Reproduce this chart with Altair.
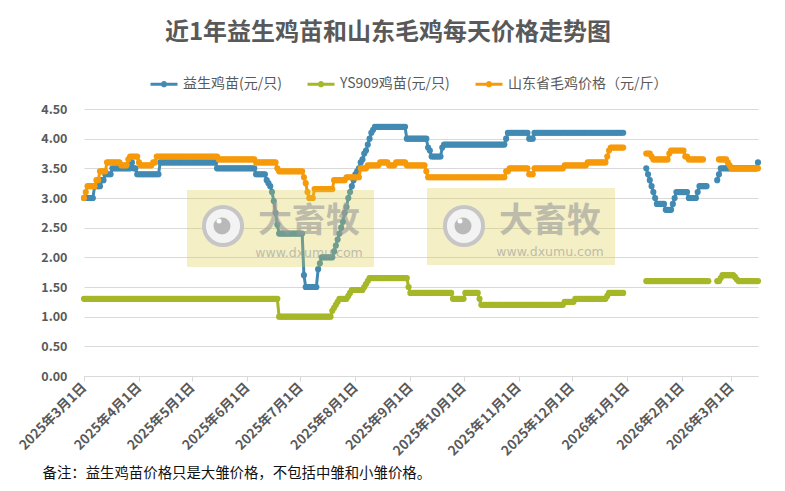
import altair as alt
import pandas as pd

TITLE = "近1年益生鸡苗和山东毛鸡每天价格走势图"
NOTE = "备注：益生鸡苗价格只是大雏价格，不包括中雏和小雏价格。"
SERIES = ["益生鸡苗(元/只)", "YS909鸡苗(元/只)", "山东省毛鸡价格（元/斤）"]
COLORS = ["#418AB3", "#A6B727", "#F69A0A"]
FONT = "Noto Sans CJK SC"
TEXT_COLOR = "#595959"

START_DATE = "2025-03-01"
END_DATE = "2026-03-16"

# Each run starts on the given date and holds until the next one (None = no data)
BLUE_START = ["2025-03-01", "2025-03-07", "2025-03-11", "2025-03-13", "2025-03-17", "2025-03-28",
              "2025-03-29", "2025-03-31", "2025-04-13", "2025-05-15", "2025-06-06", "2025-06-12",
              "2025-06-13", "2025-06-14", "2025-06-15", "2025-06-16", "2025-06-17", "2025-06-18",
              "2025-06-19", "2025-07-03", "2025-07-04", "2025-07-11", "2025-07-12", "2025-07-13",
              "2025-07-20", "2025-07-21", "2025-07-22", "2025-07-23", "2025-07-24", "2025-07-25",
              "2025-07-26", "2025-07-27", "2025-07-28", "2025-07-29", "2025-07-30", "2025-07-31",
              "2025-08-01", "2025-08-02", "2025-08-03", "2025-08-04", "2025-08-05", "2025-08-06",
              "2025-08-07", "2025-08-08", "2025-08-09", "2025-08-10", "2025-08-11", "2025-08-12",
              "2025-08-30", "2025-09-11", "2025-09-12", "2025-09-13", "2025-09-19", "2025-09-20",
              "2025-10-25", "2025-10-26", "2025-11-07", "2025-11-10", "2025-12-31", "2026-01-12",
              "2026-01-13", "2026-01-14", "2026-01-15", "2026-01-16", "2026-01-17", "2026-01-18",
              "2026-01-23", "2026-01-27", "2026-01-28", "2026-01-29", "2026-02-05", "2026-02-10",
              "2026-02-11", "2026-02-16", "2026-02-21", "2026-02-22", "2026-02-23", "2026-03-16"]
BLUE_VALUE = [3.0, 3.2, 3.3, 3.4, 3.5, 3.6,
              3.5, 3.4, 3.6, 3.5, 3.4, 3.3,
              3.25, 3.2, 3.1, 2.95, 2.75, 2.55,
              2.4, 1.7, 1.5, 1.8, 1.9, 2.0,
              2.1, 2.2, 2.3, 2.4, 2.5, 2.6,
              2.75, 2.85, 3.0, 3.1, 3.2, 3.3,
              3.4, 3.45, 3.5, 3.6, 3.65, 3.75,
              3.8, 3.9, 4.0, 4.1, 4.15, 4.2,
              4.0, 3.85, 3.8, 3.7, 3.85, 3.9,
              4.0, 4.1, 4.0, 4.1, None, 3.5,
              3.4, 3.3, 3.2, 3.1, 3.0, 2.9,
              2.8, 2.9, 3.0, 3.1, 3.0, 3.1,
              3.2, None, 3.3, 3.4, 3.5, 3.6]

GREEN_START = ["2025-03-01", "2025-06-19", "2025-07-19", "2025-07-20", "2025-07-21", "2025-07-22",
               "2025-07-23", "2025-07-28", "2025-07-29", "2025-07-30", "2025-08-06", "2025-08-07",
               "2025-08-08", "2025-08-09", "2025-08-31", "2025-09-01", "2025-09-25", "2025-10-02",
               "2025-10-10", "2025-10-11", "2025-11-27", "2025-12-03", "2025-12-21", "2025-12-22",
               "2025-12-31", "2026-01-12", "2026-02-17", "2026-02-21", "2026-02-23", "2026-02-24",
               "2026-03-03", "2026-03-04", "2026-03-05"]
GREEN_VALUE = [1.3, 1.0, 1.1, 1.15, 1.2, 1.25,
               1.3, 1.35, 1.4, 1.45, 1.5, 1.55,
               1.6, 1.65, 1.5, 1.4, 1.3, 1.4,
               1.3, 1.2, 1.25, 1.3, 1.35, 1.4,
               None, 1.6, None, 1.6, 1.65, 1.7,
               1.67, 1.63, 1.6]

ORANGE_START = ["2025-03-01", "2025-03-02", "2025-03-03", "2025-03-08", "2025-03-10", "2025-03-14",
                "2025-03-22", "2025-03-26", "2025-03-27", "2025-04-01", "2025-04-02", "2025-04-09",
                "2025-04-11", "2025-05-16", "2025-06-06", "2025-06-18", "2025-06-19", "2025-07-03",
                "2025-07-04", "2025-07-05", "2025-07-06", "2025-07-09", "2025-07-20", "2025-07-27",
                "2025-08-04", "2025-08-08", "2025-08-15", "2025-08-20", "2025-08-24", "2025-08-30",
                "2025-09-10", "2025-09-11", "2025-10-25", "2025-10-27", "2025-11-07", "2025-11-10",
                "2025-11-27", "2025-12-10", "2025-12-21", "2025-12-22", "2025-12-23", "2025-12-31",
                "2026-01-12", "2026-01-15", "2026-01-16", "2026-01-25", "2026-01-26", "2026-02-03",
                "2026-02-05", "2026-02-14", "2026-02-22", "2026-02-27", "2026-02-28", "2026-03-01"]
ORANGE_VALUE = [3.0, 3.1, 3.2, 3.3, 3.45, 3.6,
                3.55, 3.65, 3.7, 3.6, 3.55, 3.6,
                3.7, 3.65, 3.6, 3.5, 3.45, 3.35,
                3.25, 3.1, 3.0, 3.15, 3.3, 3.35,
                3.5, 3.55, 3.6, 3.55, 3.6, 3.55,
                3.45, 3.35, 3.45, 3.5, 3.4, 3.5,
                3.55, 3.6, 3.7, 3.8, 3.85, None,
                3.75, 3.7, 3.65, 3.75, 3.8, 3.7,
                3.65, None, 3.65, 3.6, 3.55, 3.5]

TICK_DATES = ["2025-03-01", "2025-04-01", "2025-05-01", "2025-06-01", "2025-07-01", "2025-08-01",
              "2025-09-01", "2025-10-01", "2025-11-01", "2025-12-01", "2026-01-01", "2026-02-01",
              "2026-03-01"]
Y_TICKS = [0.0, 0.5, 1.0, 1.5, 2.0, 2.5, 3.0, 3.5, 4.0, 4.5]

WATERMARK_TEXT = "大畜牧"
WATERMARK_URL = "www.dxumu.com"


def expand(name, starts, values, end):
    rows = []
    ts = pd.to_datetime(starts)
    seg = 0
    for i, v in enumerate(values):
        stop = ts[i + 1] - pd.Timedelta(days=1) if i + 1 < len(ts) else pd.Timestamp(end)
        if v is None:
            seg += 1
            continue
        for day in pd.date_range(ts[i], stop, freq="D"):
            rows.append({"date": day.strftime("%Y-%m-%d"), "value": v, "series": name,
                         "seg": f"{name}-{seg}"})
    return rows


def ms(d):
    return int(pd.Timestamp(d, tz="UTC").value // 10**6)


rows = []
rows += expand(SERIES[0], BLUE_START, BLUE_VALUE, END_DATE)
rows += expand(SERIES[1], GREEN_START, GREEN_VALUE, END_DATE)
rows += expand(SERIES[2], ORANGE_START, ORANGE_VALUE, END_DATE)
df = pd.DataFrame(rows)

x_enc = alt.X(
    "date:T",
    scale=alt.Scale(type="utc", domain=[ms(START_DATE), ms(END_DATE)], nice=False),
    axis=alt.Axis(
        values=[ms(d) for d in TICK_DATES],
        labelExpr="utcFormat(datum.value, '%Y年%-m月%-d日')",
        labelAngle=-45, labelAlign="right", labelBaseline="middle", labelPadding=4,
        labelFont=FONT, labelFontSize=13.5, labelFontWeight="bold", labelColor=TEXT_COLOR,
        labelOverlap=False, labelFlush=False,
        tickSize=5, tickColor="#d9d9d9", domainColor="#d9d9d9", grid=False,
        title=NOTE, titleFont=FONT, titleFontSize=14.4, titleFontWeight="normal",
        titleColor="#111111", titleAnchor="start", titleAlign="left", titleBaseline="middle",
        titleX=-42, titleY=97,
    ),
)
y_enc = alt.Y(
    "value:Q",
    scale=alt.Scale(domain=[0, 4.5], nice=False, zero=True),
    axis=alt.Axis(
        values=Y_TICKS, format=".2f", domain=False, ticks=False, grid=True,
        gridColor="#d9d9d9", labelFont=FONT, labelFontSize=12.5, labelFontWeight="bold",
        labelColor=TEXT_COLOR, labelPadding=17, title=None,
    ),
)
legend = alt.Legend(
    title=None, orient="none", direction="horizontal", legendX=65, legendY=-40,
    symbolType="M-1,0L1,0M-0.12,0A0.12,0.12,0,1,1,0.12,0A0.12,0.12,0,1,1,-0.12,0",
    symbolSize=729, symbolStrokeWidth=3, labelFont=FONT, labelFontSize=14,
    labelColor=TEXT_COLOR, labelOffset=4, columnPadding=19, padding=0,
)
color_enc = alt.Color("series:N", scale=alt.Scale(domain=SERIES, range=COLORS), legend=legend)

data_layers = []
for s in SERIES:
    data_layers.append(
        alt.Chart(df)
        .transform_filter(alt.datum.series == s)
        .mark_line(strokeWidth=3, point=alt.OverlayMarkDef(filled=True, size=38, opacity=1))
        .encode(x=x_enc, y=y_enc, color=color_enc, detail="seg:N")
    )

one = pd.DataFrame({"k": [0]})


def watermark(rx1, rx2, ry1, ry2, cx, cy, tx, ty, uy):
    layers = [
        alt.Chart(one).mark_rect(fill="#dccb3c", opacity=0.3).encode(
            x=alt.value(rx1), x2=alt.value(rx2), y=alt.value(ry1), y2=alt.value(ry2)),
        alt.Chart(one).mark_point(shape="circle", filled=True, fill="#f3f3f3", stroke="#c6c6c6",
                                  strokeWidth=4, size=1450, opacity=1).encode(
            x=alt.value(cx), y=alt.value(cy)),
        alt.Chart(one).mark_point(shape="circle", filled=True, fill="#b9b9b9", size=290,
                                  opacity=1).encode(x=alt.value(cx - 1), y=alt.value(cy)),
        alt.Chart(one).mark_point(shape="circle", filled=True, fill="#ffffff", size=25,
                                  opacity=1).encode(x=alt.value(cx - 4), y=alt.value(cy - 5)),
        alt.Chart(one).mark_text(text=WATERMARK_TEXT, font=FONT, fontSize=34, fontWeight="bold",
                                 fill="#9a9a9a", opacity=0.6, align="center",
                                 baseline="middle").encode(x=alt.value(tx), y=alt.value(ty)),
        alt.Chart(one).mark_text(text=WATERMARK_URL, font="DejaVu Sans", fontSize=12.5,
                                 fill="#9a9a9a", opacity=0.6, align="center",
                                 baseline="middle").encode(x=alt.value(tx), y=alt.value(uy)),
    ]
    return layers


wm_layers = watermark(103, 290, 81, 158, 139, 117, 225, 113, 144) + \
    watermark(343, 531, 79, 156, 380, 117, 466, 113, 143)

chart = alt.layer(*data_layers, *wm_layers).properties(
    width=674, height=267,
    padding={"left": 76, "top": 101, "right": 17, "bottom": 106},
    autosize=alt.AutoSizeParams(type="none"),
    background="white",
    title=alt.TitleParams(text=TITLE, font=FONT, fontSize=24, fontWeight="bold",
                          color=TEXT_COLOR, anchor="middle", frame="group", offset=24, dx=-33),
).configure_view(stroke=None)

chart.save("out.html", embed_options={"renderer": "svg", "actions": False})
